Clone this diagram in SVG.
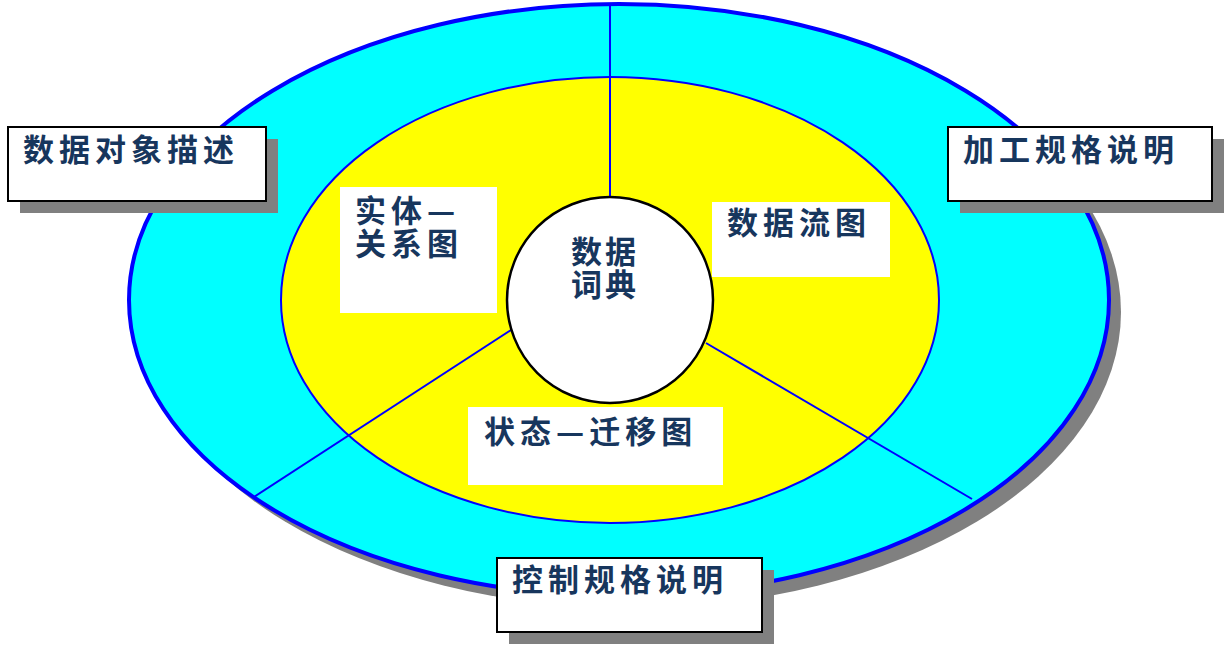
<svg xmlns="http://www.w3.org/2000/svg" width="1226" height="646" viewBox="0 0 1226 646">
<style>
.t{font-family:"Noto Sans CJK SC","Liberation Sans",sans-serif;font-weight:bold;font-size:31px;letter-spacing:5px;fill:#17365d}
.c{letter-spacing:3px}
.box{fill:#fff;stroke:#000;stroke-width:2}
.sh{fill:#808080}
.ln{stroke:#0000ff;stroke-width:2;fill:none}
</style>
<rect width="1226" height="646" fill="#fff"/>
<g id="outer">
<ellipse cx="631" cy="312" rx="490" ry="296" class="sh"/>
<ellipse cx="619" cy="300" rx="490" ry="296" fill="#00ffff" stroke="#0000ff" stroke-width="4"/>
</g>
<g id="inner">
<ellipse cx="610" cy="300" rx="329" ry="223" fill="#ffff00" stroke="#0000ff" stroke-width="2"/>
</g>
<g id="connectors">
<line x1="610" y1="5" x2="610" y2="198" class="ln"/>
<line x1="511" y1="330" x2="254" y2="497" class="ln"/>
<line x1="706" y1="343" x2="972" y2="499" class="ln"/>
</g>
<g id="er">
<rect x="340" y="187" width="157" height="126" fill="#fff"/>
<text class="t" x="355" y="222">实体—</text>
<text class="t" x="355" y="255">关系图</text>
</g>
<g id="dfd">
<rect x="712" y="202" width="178" height="75" fill="#fff"/>
<text class="t" x="727" y="234">数据流图</text>
</g>
<g id="std">
<rect x="468" y="407" width="255" height="78" fill="#fff"/>
<text class="t" x="484" y="443">状态—迁移图</text>
</g>
<g id="dict">
<circle cx="610" cy="300" r="103" fill="#fff" stroke="#000" stroke-width="2.5"/>
<text class="t c" x="571" y="263">数据</text>
<text class="t c" x="571" y="296">词典</text>
</g>
<g id="obj">
<rect x="20" y="139" width="258" height="74" class="sh"/>
<rect x="8" y="127" width="258" height="74" class="box"/>
<text class="t" x="23" y="161">数据对象描述</text>
</g>
<g id="proc">
<rect x="960" y="139" width="264" height="74" class="sh"/>
<rect x="948" y="127" width="264" height="74" class="box"/>
<text class="t" x="963" y="161">加工规格说明</text>
</g>
<g id="ctrl">
<rect x="509" y="570" width="265" height="74" class="sh"/>
<rect x="497" y="558" width="265" height="74" class="box"/>
<text class="t" x="512" y="591">控制规格说明</text>
</g>
</svg>
